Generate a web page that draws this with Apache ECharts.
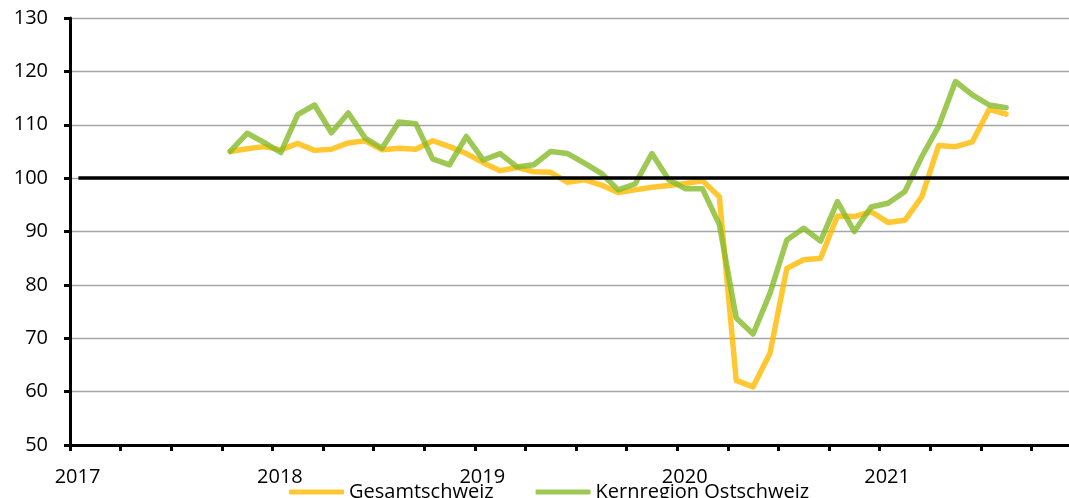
<!DOCTYPE html>
<html>
<head>
<meta charset="utf-8">
<script src="https://cdn.jsdelivr.net/npm/echarts@6/dist/echarts.min.js"></script>
<style>
  html, body { margin: 0; padding: 0; background: #fff; }
  #index-chart { width: 1069px; height: 498px; }
</style>
</head>
<body>
<div id="index-chart"></div>
<script>
// monthly observations, Oct 2017 - Aug 2021
const months = [
  '2017-10', '2017-11', '2017-12',
  '2018-01', '2018-02', '2018-03', '2018-04', '2018-05', '2018-06',
  '2018-07', '2018-08', '2018-09', '2018-10', '2018-11', '2018-12',
  '2019-01', '2019-02', '2019-03', '2019-04', '2019-05', '2019-06',
  '2019-07', '2019-08', '2019-09', '2019-10', '2019-11', '2019-12',
  '2020-01', '2020-02', '2020-03', '2020-04', '2020-05', '2020-06',
  '2020-07', '2020-08', '2020-09', '2020-10', '2020-11', '2020-12',
  '2021-01', '2021-02', '2021-03', '2021-04', '2021-05', '2021-06',
  '2021-07', '2021-08'
]
const gesamtschweiz = [
  105.0, 105.5, 105.9,
  105.3, 106.5, 105.2, 105.4, 106.6, 107.0,
  105.3, 105.6, 105.4, 107.0, 105.9, 104.6,
  102.9, 101.4, 102.0, 101.2, 101.1, 99.2,
  99.7, 98.7, 97.3, 97.8, 98.3, 98.6,
  99.0, 99.5, 96.5, 62.1, 60.9, 67.2,
  83.1, 84.7, 85.0, 92.9, 92.8, 93.7,
  91.7, 92.1, 96.5, 106.1, 105.9, 106.8,
  112.9, 112.0
]
const ostschweiz = [
  105.0, 108.4, 106.7,
  104.8, 111.9, 113.7, 108.5, 112.2, 107.5,
  105.6, 110.5, 110.2, 103.6, 102.5, 107.8,
  103.4, 104.6, 102.1, 102.5, 105.0, 104.6,
  102.8, 100.9, 97.8, 98.9, 104.6, 99.7,
  98.0, 98.0, 91.3, 73.8, 70.8, 78.4,
  88.4, 90.6, 88.2, 95.6, 90.0, 94.6,
  95.3, 97.5, 104.0, 109.7, 118.1, 115.6,
  113.7, 113.2
]
const firstYear = 2017
const lastYear = 2021
const baseline = 100

// month position on the axis, centred in its month slot
const monthPos = m => {
  const [y, mo] = m.split('-').map(Number)
  return (y - firstYear) * 12 + (mo - 1) + 0.5
}
const toPoints = vals => months.map((m, i) => [monthPos(m), vals[i]])

const font = '"Open Sans", Lato, sans-serif'
const myChart = echarts.init(document.getElementById('index-chart'))
myChart.setOption({
  animation: false,
  grid: {
    left: 70,
    width: 1012,
    top: 18,
    bottom: 53,
    outerBoundsMode: 'none'
  },
  legend: {
    data: ['Gesamtschweiz', 'Kernregion Ostschweiz'],
    left: 289,
    top: 482,
    padding: 0,
    itemWidth: 55,
    itemHeight: 5,
    itemGap: 42,
    icon: 'roundRect',
    textStyle: { fontFamily: font, fontSize: 20, color: '#000' }
  },
  xAxis: {
    type: 'value',
    min: 0,
    max: (lastYear - firstYear + 1) * 12,
    interval: 3,
    axisLine: { lineStyle: { color: '#000', width: 3 } },
    axisTick: { length: 6, lineStyle: { color: '#000', width: 3 } },
    splitLine: { show: false },
    axisLabel: {
      margin: 22,
      padding: [0, 0, 0, 15],
      fontFamily: font,
      fontSize: 20,
      color: '#000',
      showMaxLabel: false,
      formatter: v => (v % 12 === 0 && firstYear + v / 12 <= lastYear) ? String(firstYear + v / 12) : ''
    }
  },
  yAxis: {
    type: 'value',
    min: 50,
    max: 130,
    interval: 10,
    axisLine: { show: true, lineStyle: { color: '#000', width: 3 } },
    axisTick: { show: true, length: 6, lineStyle: { color: '#000', width: 3 } },
    splitLine: { lineStyle: { color: '#a6a6a6', width: 1.3 } },
    axisLabel: {
      margin: 22,
      fontFamily: font,
      fontSize: 20,
      color: '#000'
    }
  },
  series: [{
    name: 'Gesamtschweiz',
    type: 'line',
    data: toPoints(gesamtschweiz),
    showSymbol: false,
    color: 'rgba(255,186,0,0.8)',
    lineStyle: { width: 5.5, cap: 'round', join: 'round' },
    markLine: {
      silent: true,
      symbol: 'none',
      label: { show: false },
      lineStyle: { color: '#000', width: 3.5, type: 'solid' },
      data: [[{ coord: [0.5, baseline] }, { coord: [(lastYear - firstYear + 1) * 12, baseline] }]]
    },
    z: 2
  }, {
    name: 'Kernregion Ostschweiz',
    type: 'line',
    data: toPoints(ostschweiz),
    showSymbol: false,
    color: 'rgba(132,186,41,0.8)',
    lineStyle: { width: 5.5, cap: 'round', join: 'round' },
    z: 3
  }]
})
window.addEventListener('resize', () => { myChart.resize() })
</script>
</body>
</html>
